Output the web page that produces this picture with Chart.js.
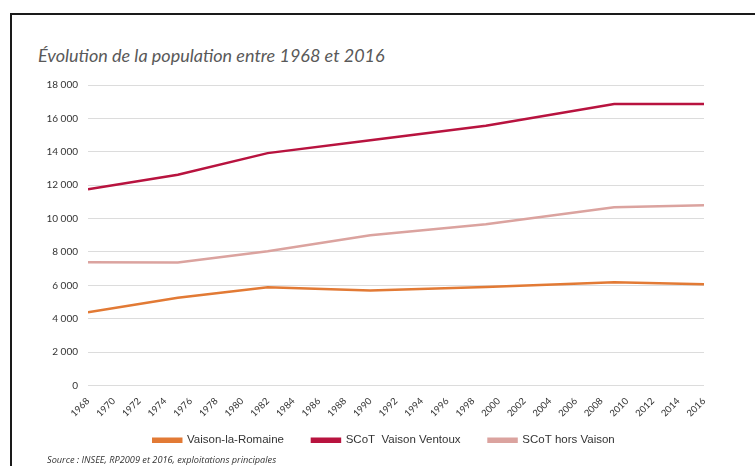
<!DOCTYPE html>
<html>
<head>
<meta charset="utf-8">
<script src="https://cdn.jsdelivr.net/npm/chart.js@4/dist/chart.umd.min.js"></script>
<style>
  html, body { margin: 0; padding: 0; background: #fff; }
  #wrap { position: relative; width: 755px; height: 466px; overflow: hidden; }
  #frame { position: absolute; left: 10px; top: 13px; width: 900px; height: 600px;
           border-top: 2px solid #1a1a1a; border-left: 2px solid #1a1a1a; }
  #title { position: absolute; left: 38px; top: 44px; font: italic 18px Lato, sans-serif; color: #595959; }
  #source { position: absolute; left: 47px; top: 453px; font: italic 9.2px "Open Sans", sans-serif; color: #333; }
  canvas { position: absolute; left: 0; top: 0; }
</style>
</head>
<body>
<div id="wrap">
  <div id="frame"></div>
  <div id="title">Évolution de la population entre 1968 et 2016</div>
  <canvas id="popChart" width="755" height="466"></canvas>
  <div id="source">Source : INSEE, RP2009 et 2016, exploitations principales</div>
</div>
<script>
const years = [1968, 1975, 1982, 1990, 1999, 2009, 2016];
const vaison = [4380, 5250, 5880, 5690, 5900, 6180, 6060];
const scot = [11760, 12620, 13920, 14690, 15560, 16860, 16860];
const horsVaison = [7380, 7370, 8040, 9000, 9660, 10680, 10800];

const toPoints = (vals) => vals.map((v, i) => ({ x: years[i], y: v }));

const line = (label, vals, color) => ({
  label,
  data: toPoints(vals),
  borderColor: color,
  backgroundColor: color,
  borderWidth: 2.5,
  pointRadius: 0,
  tension: 0,
  fill: false
});

// nudge the legend box so it sits centred under the page, like the original
const legendShift = {
  id: 'legendShift',
  afterLayout(chart) {
    const lg = chart.legend;
    lg.left += 22; lg.right += 22;
    lg.top -= 10; lg.bottom -= 10;
  }
};

new Chart(document.getElementById('popChart'), {
  type: 'line',
  data: {
    datasets: [
      line('Vaison-la-Romaine', vaison, '#e27a35'),
      line('SCoT  Vaison Ventoux', scot, '#b8133f'),
      line('SCoT hors Vaison', horsVaison, '#dba39f')
    ]
  },
  plugins: [legendShift],
  options: {
    responsive: false,
    animation: false,
    layout: { padding: { left: 20, right: 51, top: 85, bottom: 0 } },
    plugins: {
      legend: {
        position: 'bottom',
        labels: {
          boxWidth: 28,
          boxHeight: 3,
          padding: 28,
          color: '#333',
          font: { family: 'Liberation Sans', size: 11.5 }
        }
      },
      tooltip: { enabled: false }
    },
    scales: {
      x: {
        type: 'linear',
        min: 1968,
        max: 2016,
        grid: { display: false },
        border: { display: false },
        afterFit: (s) => { s.height = 31; },
        ticks: {
          stepSize: 2,
          autoSkip: false,
          minRotation: 45,
          maxRotation: 45,
          padding: 2,
          color: '#333',
          font: { family: 'Lato', size: 9.5 },
          callback: (v) => String(v)
        }
      },
      y: {
        min: 0,
        max: 18000,
        afterFit: (s) => { s.width = 68; },
        grid: { color: '#dcdcdc', drawTicks: false },
        border: { display: false },
        ticks: {
          stepSize: 2000,
          padding: 10,
          color: '#333',
          font: { family: 'Lato', size: 10 },
          callback: (v) => v === 0 ? '0' : v.toLocaleString('fr-FR').replace(/\s/g, ' ')
        }
      }
    }
  }
});
</script>
</body>
</html>
